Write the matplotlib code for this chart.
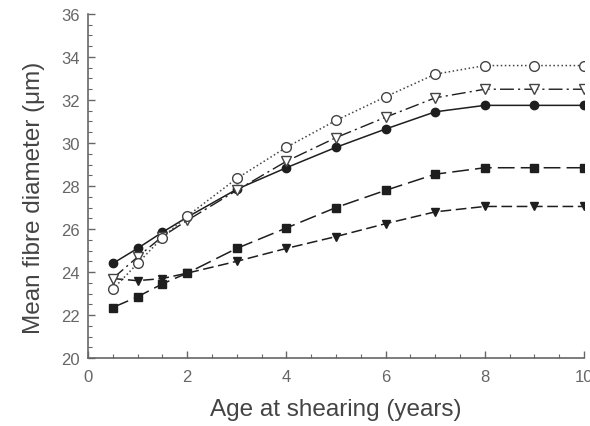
import matplotlib
matplotlib.use("Agg")
from matplotlib import pyplot as plt
from matplotlib.ticker import MultipleLocator

plt.rcParams["font.family"] = ["Liberation Sans", "DejaVu Sans"]

ages = [0.5, 1, 1.5, 2, 3, 4, 5, 6, 7, 8, 9, 10]

filled_circle = [24.4, 25.1, 25.85, 26.55, 27.85, 28.85, 29.8, 30.65, 31.45, 31.75, 31.75, 31.75]
open_circle = [23.2, 24.4, 25.6, 26.6, 28.35, 29.8, 31.05, 32.15, 33.2, 33.6, 33.6, 33.6]
open_triangle = [23.7, 24.7, 25.65, 26.4, 27.8, 29.15, 30.25, 31.2, 32.1, 32.5, 32.5, 32.5]
filled_square = [22.35, 22.85, 23.45, 23.95, 25.1, 26.05, 27.0, 27.8, 28.55, 28.85, 28.85, 28.85]
filled_triangle = [23.7, 23.6, 23.7, 23.95, 24.5, 25.1, 25.65, 26.25, 26.8, 27.05, 27.05, 27.05]

ink = "#1e1e1e"

fig = plt.figure(figsize=(5.9, 4.27), dpi=100)
ax = fig.add_axes([0.149, 0.159, 0.841, 0.806])

ax.plot(ages, filled_triangle, color=ink, lw=1.1, dashes=(7, 3),
        marker="v", ms=6, mfc=ink, mec=ink, zorder=2)
ax.plot(ages, filled_square, color=ink, lw=1.1, dashes=(11, 4),
        marker="s", ms=5.5, mfc=ink, mec=ink, zorder=2)
ax.plot(ages, filled_circle, color=ink, lw=1.1, ls="-",
        marker="o", ms=6, mfc=ink, mec=ink, zorder=3)
ax.plot(ages, open_triangle, color=ink, lw=1.0, dashes=(10, 3, 1.5, 3),
        marker="v", ms=7, mfc="white", mec="#444", mew=1.0, zorder=4)
ax.plot(ages, open_circle, color="#444", lw=1.1, ls=":",
        marker="o", ms=7, mfc="white", mec="#444", mew=1.0, zorder=4)

ax.set_xlim(0, 10)
ax.set_ylim(20, 36)
ax.xaxis.set_major_locator(MultipleLocator(2))
ax.xaxis.set_minor_locator(MultipleLocator(0.5))
ax.yaxis.set_major_locator(MultipleLocator(2))
ax.yaxis.set_minor_locator(MultipleLocator(0.5))

for side in ["top", "right"]:
    ax.spines[side].set_visible(False)
for side in ["left", "bottom"]:
    ax.spines[side].set_color("#666")
    ax.spines[side].set_linewidth(1.2)

ax.tick_params(which="both", direction="in", color="#666", labelcolor="#666",
               labelsize=12)
ax.tick_params(axis="y", pad=6)
ax.tick_params(axis="x", pad=8)
ax.tick_params(which="major", length=5, width=1)
ax.tick_params(which="minor", length=3, width=0.8)

ax.set_xlabel("Age at shearing (years)", fontsize=17.5, color="#444")
ax.set_ylabel("Mean fibre diameter (\u03bcm)", fontsize=17.5, color="#444")
ax.xaxis.set_label_coords(0.5, -0.148)
ax.yaxis.set_label_coords(-0.109, 0.468)
ax.xaxis.label.set_va("center")
ax.yaxis.label.set_va("center")

fig.savefig("out.png", dpi=100)
